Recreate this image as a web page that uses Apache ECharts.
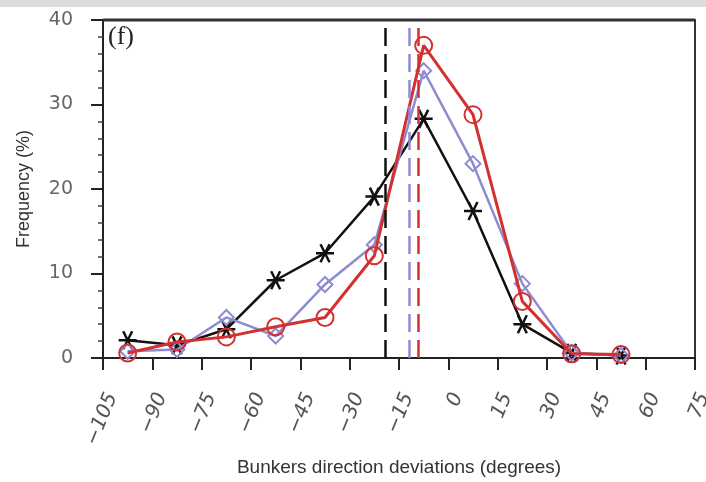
<!DOCTYPE html>
<html lang="en">
<head>
    <meta charset="UTF-8">
    <title>Bunkers direction deviations</title>
    <script src="https://cdn.jsdelivr.net/npm/echarts@6/dist/echarts.min.js"></script>
    <style>
        html, body { margin: 0; padding: 0; background: #fff; }
        #main { width: 706px; height: 482px; }
    </style>
</head>
<body>
<div id="main"></div>
<script type="text/javascript">
    // bin centres (degrees)
    var binCentres = [-97.5, -82.5, -67.5, -52.5, -37.5, -22.5, -7.5, 7.5, 22.5, 37.5, 52.5];
    // frequency (%) per bin
    var blackVals = [2.1, 1.5, 3.4, 9.2, 12.4, 19.1, 28.3, 17.4, 4.0, 0.6, 0.3];
    var blueVals  = [0.8, 1.0, 4.8, 2.6, 8.7, 13.4, 34.0, 23.0, 8.8, 0.6, 0.3];
    var redVals   = [0.6, 1.9, 2.5, 3.7, 4.8, 12.1, 37.0, 28.8, 6.7, 0.5, 0.4];
    // mean deviations (dashed lines)
    var blackMean = -19.2;
    var blueMean  = -11.9;
    var redMean   = -9.2;

    var colors = ['#111111', '#8c8cd2', '#d3302f'];

    function pairs(vals) {
        var out = [];
        for (var i = 0; i < binCentres.length; i++) {
            out.push([binCentres[i], vals[i]]);
        }
        return out;
    }

    function meanLine(x, c) {
        return {
            silent: true,
            symbol: 'none',
            label: { show: false },
            lineStyle: { color: c, type: [18, 8], width: 2.5 },
            data: [{ xAxis: x }]
        };
    }

    var starPath = 'path://M-10 0L10 0M-5 -8.66L5 8.66M-5 8.66L5 -8.66';

    var myChart = echarts.init(document.getElementById('main'));

    var option = {
        animation: false,
        backgroundColor: '#fff',
        grid: {
            left: 103,
            right: 11,
            top: 20,
            bottom: 124,
            outerBoundsMode: 'none',
            show: true,
            borderColor: '#333',
            borderWidth: 2
        },
        graphic: [
            {
                type: 'rect',
                shape: { x: 0, y: 0, width: 706, height: 7 },
                style: { fill: '#dcdcdc' },
                z: -1
            },
            {
                type: 'line',
                shape: { x1: 103, y1: 20, x2: 695, y2: 20 },
                style: { stroke: '#333', lineWidth: 3 },
                z: 10
            },
            {
                type: 'text',
                left: 108,
                top: 24,
                style: {
                    text: '(f)',
                    font: '26px "Liberation Serif", "DejaVu Serif", serif',
                    fill: '#222'
                }
            }
        ],
        xAxis: {
            type: 'value',
            min: -105,
            max: 75,
            interval: 15,
            name: 'Bunkers direction deviations (degrees)',
            nameLocation: 'middle',
            nameGap: 100,
            nameTextStyle: {
                color: '#333',
                fontSize: 19,
                fontFamily: '"Liberation Sans", Arial, sans-serif'
            },
            splitLine: { show: false },
            axisLine: { onZero: false, lineStyle: { color: '#222', width: 2 } },
            axisTick: { length: 12, lineStyle: { color: '#222', width: 2 } },
            axisLabel: {
                rotate: 68,
                margin: 32,
                verticalAlign: 'top',
                color: '#555',
                fontSize: 20,
                fontStyle: 'italic',
                fontFamily: '"DejaVu Sans", sans-serif',
                formatter: function (v) {
                    return v < 0 ? '\u2212' + Math.abs(v) : String(v);
                }
            }
        },
        yAxis: {
            type: 'value',
            min: 0,
            max: 40,
            interval: 10,
            name: 'Frequency (%)',
            nameLocation: 'middle',
            nameGap: 70,
            nameTextStyle: {
                color: '#333',
                fontSize: 18,
                fontFamily: '"Liberation Sans", Arial, sans-serif'
            },
            splitLine: { show: false },
            axisLine: { onZero: false, lineStyle: { color: '#222', width: 2 } },
            axisTick: { length: 12, lineStyle: { color: '#222', width: 2 } },
            minorTick: { show: true, splitNumber: 5, length: 5, lineStyle: { color: '#444', width: 1.5 } },
            axisLabel: {
                margin: 30,
                color: '#666',
                fontSize: 19,
                fontFamily: '"DejaVu Sans", sans-serif'
            }
        },
        series: [
            {
                name: 'black',
                type: 'line',
                data: pairs(blackVals),
                symbol: starPath,
                symbolSize: 18,
                lineStyle: { color: colors[0], width: 2.5 },
                itemStyle: { color: 'none', borderColor: colors[0], borderWidth: 2.5 },
                markLine: meanLine(blackMean, colors[0]),
                z: 2
            },
            {
                name: 'blue',
                type: 'line',
                data: pairs(blueVals),
                symbol: 'diamond',
                symbolSize: 15,
                lineStyle: { color: colors[1], width: 2.5 },
                itemStyle: { color: 'rgba(0,0,0,0)', borderColor: colors[1], borderWidth: 2 },
                markLine: meanLine(blueMean, colors[1]),
                z: 3
            },
            {
                name: 'red',
                type: 'line',
                data: pairs(redVals),
                symbol: 'circle',
                symbolSize: 17,
                lineStyle: { color: colors[2], width: 3 },
                itemStyle: { color: 'rgba(0,0,0,0)', borderColor: colors[2], borderWidth: 2 },
                markLine: meanLine(redMean, colors[2]),
                z: 4
            }
        ]
    };

    myChart.setOption(option);
</script>
</body>
</html>
